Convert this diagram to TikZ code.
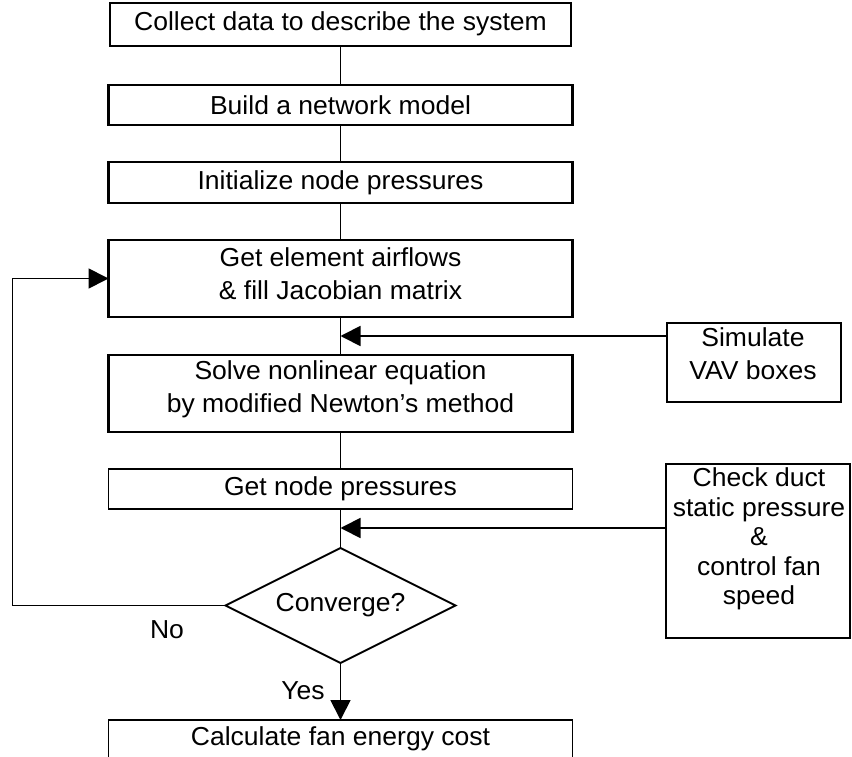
\documentclass[tikz,border=0pt]{standalone}
\usepackage{fontspec}
\setmainfont{Liberation Sans}[FakeStretch=1.02]
\usetikzlibrary{arrows.meta,shapes.geometric}

\begin{document}
\begin{tikzpicture}[x=1pt,y=-1pt,
  every node/.style={inner sep=0pt, outer sep=0pt},
  txt/.style={align=center, font=\fontsize{26}{33}\selectfont},
  mainbox/.style={draw, rectangle, minimum width=464pt},
  sidebox/.style={draw, rectangle},
  conn/.style={line width=1.8pt},
  arr/.style={line width=1.8pt, -{Triangle[length=20pt,width=20pt]}},
]
\useasboundingbox (0,0) rectangle (852,757);
\begin{scope}
\clip (0,0) rectangle (852,757);

% main column
\node[mainbox, line width=1.5pt, minimum width=461pt, minimum height=43pt] (b1) at (340.5,24.5) {};
\node[mainbox, line width=2.4pt, minimum height=40pt] (b2) at (340.5,105) {};
\node[mainbox, line width=2.4pt, minimum height=41pt] (b3) at (340.5,182.5) {};
\node[mainbox, line width=2.7pt, minimum height=77pt] (b4) at (340.5,278.5) {};
\node[mainbox, line width=2.7pt, minimum height=77pt] (b5) at (340.5,393.5) {};
\node[mainbox, line width=1.6pt, minimum height=40pt] (b6) at (340.5,489) {};
\node[draw, diamond, line width=2pt, minimum width=230pt, minimum height=115pt] (dec) at (340.5,605.5) {};
\node[mainbox, line width=1.6pt, minimum height=50pt] (b7) at (340.5,745) {};

% side boxes
\node[sidebox, line width=1.5pt, minimum width=174pt, minimum height=79pt] (sim) at (754,362.5) {};
\node[sidebox, line width=2.4pt, minimum width=184pt, minimum height=174pt] (chk) at (758,551) {};

% texts
\node[txt] (t1) at (340.5,24) {Collect data to describe the system};
\node[txt] (t2) at (340.5,105) {Build a network model};
\node[txt] (t3) at (340.5,182.5) {Initialize node pressures};
\node[txt] (t4) at (340.5,274) {Get element airflows\\\& fill Jacobian matrix};
\node[txt] (t5) at (340.5,389) {Solve nonlinear equation\\by modified Newton’s method};
\node[txt] (t6) at (340.5,489) {Get node pressures};
\node[txt] (t7) at (340.5,605) {Converge?};
\node[txt] (t8) at (340.5,739) {Calculate fan energy cost};
\node[txt] (ts) at (753,354) {Simulate\\VAV boxes};
\node[txt, font=\fontsize{26}{29.5}\selectfont] (tc) at (759,539) {Check duct\\static pressure\\\&\\control fan\\speed};
\node[txt] (no) at (167,630) {No};
\node[txt] (yes) at (303,691) {Yes};

% junctions on the main line
\coordinate (m1) at (340.5,336);
\coordinate (m2) at (340.5,528);

% connectors
\draw[conn] (b1.south) -- (b2.north);
\draw[conn] (b2.south) -- (b3.north);
\draw[conn] (b3.south) -- (b4.north);
\draw[conn] (b4.south) -- (b5.north);
\draw[conn] (b5.south) -- (b6.north);
\draw[conn] (b6.south) -- (dec.north);
\draw[arr] (sim.west |- m1) -- (m1);
\draw[arr] (chk.west |- m2) -- (m2);
\draw[arr] (dec.west) -- ++(-213,0) |- (b4.west);
\draw[arr] (dec.south) -- (b7.north);
\end{scope}
\end{tikzpicture}
\end{document}
